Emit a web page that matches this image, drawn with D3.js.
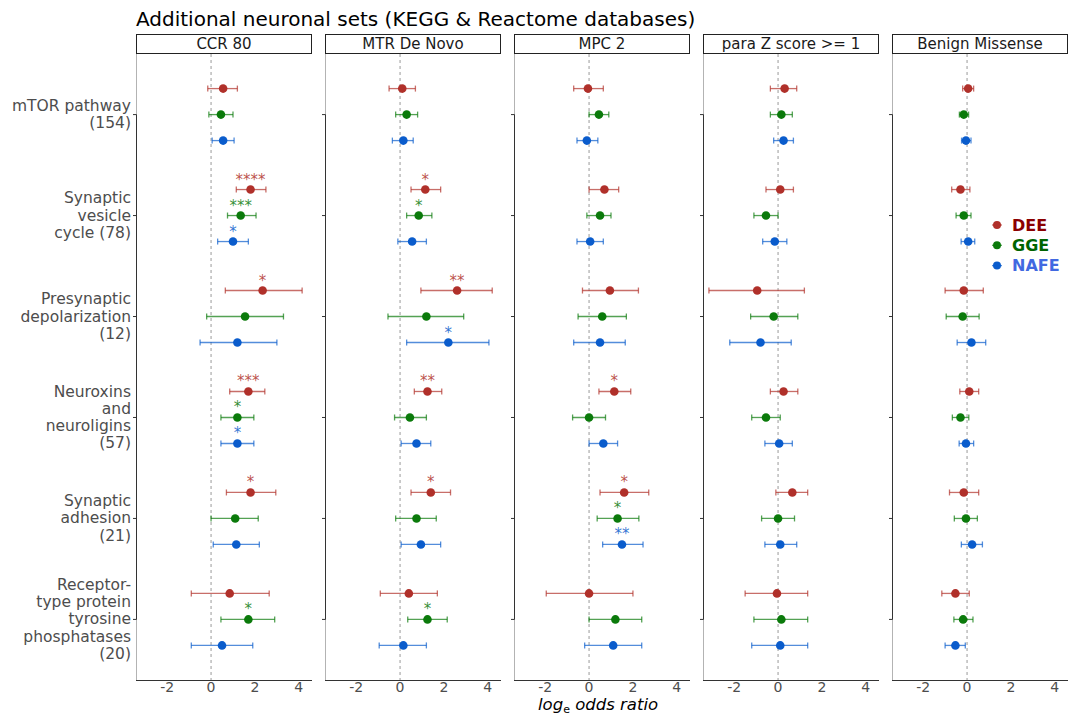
<!DOCTYPE html>
<html>
<head>
<meta charset="utf-8">
<script src="https://cdn.jsdelivr.net/npm/d3@7"></script>
<style>
  body { margin: 0; background: #fff; }
  svg { font-family: "DejaVu Sans", sans-serif; display: block; }
</style>
</head>
<body>
<div id="chart"></div>
<script>
// chart size
var width = 1068, height = 715;

var panels = ["CCR 80", "MTR De Novo", "MPC 2", "para Z score >= 1", "Benign Missense"];
var groups = ["mTOR", "vesicle", "presyn", "neurexin", "adhesion", "rptp"];
var groupLabels = [
  ["mTOR pathway", "(154)"],
  ["Synaptic", "vesicle", "cycle (78)"],
  ["Presynaptic", "depolarization", "(12)"],
  ["Neuroxins", "and", "neuroligins", "(57)"],
  ["Synaptic", "adhesion", "(21)"],
  ["Receptor-", "type protein", "tyrosine", "phosphatases", "(20)"]
];
var series = ["DEE", "GGE", "NAFE"];
var xTicks = [-2, 0, 2, 4];

// estimates / lower / upper / stars, rows = DEE, GGE, NAFE; cols = groups
var ccr80Est = [[0.55, 1.8, 2.35, 1.7, 1.8, 0.85], [0.45, 1.35, 1.55, 1.2, 1.1, 1.7], [0.55, 1.0, 1.2, 1.2, 1.15, 0.5]];
var ccr80Lo  = [[-0.15, 1.15, 0.65, 0.85, 0.7, -0.9], [-0.1, 0.75, -0.2, 0.45, 0.0, 0.45], [0.05, 0.3, -0.5, 0.45, 0.1, -0.9]];
var ccr80Hi  = [[1.2, 2.5, 4.15, 2.45, 2.95, 2.65], [1.0, 2.05, 3.3, 1.95, 2.15, 2.9], [1.05, 1.7, 3.0, 1.95, 2.2, 1.9]];
var ccr80Sig = [["", "****", "*", "***", "*", ""], ["", "***", "", "*", "", "*"], ["", "*", "", "*", "", ""]];

var mtrEst = [[0.1, 1.15, 2.6, 1.25, 1.4, 0.4], [0.3, 0.85, 1.2, 0.45, 0.75, 1.25], [0.15, 0.55, 2.2, 0.75, 0.95, 0.15]];
var mtrLo  = [[-0.5, 0.5, 0.95, 0.65, 0.5, -0.9], [-0.2, 0.3, -0.55, -0.25, -0.2, 0.35], [-0.35, -0.1, 0.3, 0.05, 0.05, -0.95]];
var mtrHi  = [[0.7, 1.85, 4.2, 1.9, 2.3, 1.7], [0.8, 1.45, 2.9, 1.2, 1.65, 2.15], [0.6, 1.2, 4.05, 1.4, 1.85, 1.2]];
var mtrSig = [["", "*", "**", "**", "*", ""], ["", "*", "", "", "", "*"], ["", "", "*", "", "", ""]];

var mpcEst = [[-0.05, 0.7, 0.95, 1.15, 1.6, 0.0], [0.45, 0.5, 0.6, 0.0, 1.3, 1.2], [-0.1, 0.05, 0.5, 0.65, 1.5, 1.1]];
var mpcLo  = [[-0.7, 0.0, -0.3, 0.45, 0.5, -1.95], [0.0, -0.1, -0.5, -0.75, 0.37, 0.0], [-0.55, -0.55, -0.7, 0.0, 0.62, -0.2]];
var mpcHi  = [[0.65, 1.35, 2.25, 1.9, 2.72, 2.0], [0.9, 1.0, 1.7, 0.75, 2.27, 2.4], [0.4, 0.65, 1.65, 1.3, 2.46, 2.4]];
var mpcSig = [["", "", "", "*", "*", ""], ["", "", "", "", "*", ""], ["", "", "", "", "**", ""]];

var paraZEst = [[0.3, 0.1, -0.95, 0.25, 0.65, -0.05], [0.15, -0.55, -0.2, -0.55, 0.0, 0.15], [0.25, -0.15, -0.8, 0.05, 0.1, 0.1]];
var paraZLo  = [[-0.35, -0.55, -3.15, -0.35, -0.1, -1.5], [-0.35, -1.1, -1.25, -1.2, -0.75, -1.1], [-0.2, -0.7, -2.2, -0.6, -0.6, -1.2]];
var paraZHi  = [[0.85, 0.7, 1.2, 0.9, 1.35, 1.35], [0.65, 0.0, 0.9, 0.1, 0.75, 1.35], [0.7, 0.4, 0.6, 0.65, 0.85, 1.35]];
var paraZSig = [["", "", "", "", "", ""], ["", "", "", "", "", ""], ["", "", "", "", "", ""]];

var benignEst = [[0.05, -0.3, -0.15, 0.1, -0.15, -0.53], [-0.15, -0.15, -0.2, -0.3, -0.05, -0.18], [-0.05, 0.05, 0.2, -0.05, 0.23, -0.53]];
var benignLo  = [[-0.2, -0.7, -1.0, -0.33, -0.8, -1.15], [-0.35, -0.5, -0.95, -0.67, -0.58, -0.6], [-0.25, -0.27, -0.45, -0.36, -0.26, -1.0]];
var benignHi  = [[0.3, 0.13, 0.74, 0.53, 0.53, 0.1], [0.07, 0.18, 0.55, 0.08, 0.47, 0.27], [0.18, 0.35, 0.85, 0.3, 0.7, -0.08]];
var benignSig = [["", "", "", "", "", ""], ["", "", "", "", "", ""], ["", "", "", "", "", ""]];

var panelEst = [ccr80Est, mtrEst, mpcEst, paraZEst, benignEst];
var panelLo = [ccr80Lo, mtrLo, mpcLo, paraZLo, benignLo];
var panelHi = [ccr80Hi, mtrHi, mpcHi, paraZHi, benignHi];
var panelSig = [ccr80Sig, mtrSig, mpcSig, paraZSig, benignSig];

var pointColor = { "DEE": "#b0302a", "GGE": "#0b7a0b", "NAFE": "#0a5ccc" };
var legendColor = { "DEE": "#8b0000", "GGE": "#006400", "NAFE": "#4169e1" };

var svg = d3.select("#chart").append("svg")
  .attr("width", width)
  .attr("height", height);

// title
svg.append("text")
  .attr("x", 136).attr("y", 26)
  .style("font-size", "20px")
  .style("fill", "#000")
  .text("Additional neuronal sets (KEGG & Reactome databases)");

var plotTop = 54, plotBottom = 680;

var px = d3.scaleBand().domain(panels).range([136, 1068]).paddingInner(13 / 189).paddingOuter(0);
var y = d3.scalePoint().domain(groups).range([plotTop, plotBottom]).padding(0.6);
var dodge = d3.scalePoint().domain(series).range([-26, 26]);

// y labels, left of first panel
var ylab = svg.append("g");
groups.forEach(function (g, i) {
  var lines = groupLabels[i];
  var t = ylab.append("text")
    .attr("text-anchor", "end")
    .style("font-size", "15.5px")
    .style("fill", "#4d4d4d");
  lines.forEach(function (l, k) {
    t.append("tspan")
      .attr("x", 131)
      .attr("y", y(g) + (k - (lines.length - 1) / 2) * 17.3)
      .attr("dominant-baseline", "central")
      .text(l);
  });
});

panels.forEach(function (p, pi) {
  var x0 = px(p), w = px.bandwidth();
  var x = d3.scaleLinear().domain([-3.42, 4.6]).range([0, w]);
  var g = svg.append("g").attr("transform", "translate(" + x0 + ",0)");

  // strip
  g.append("rect")
    .attr("x", 0.5).attr("y", 34.5)
    .attr("width", w - 1).attr("height", 19)
    .attr("fill", "#fff").attr("stroke", "#222").attr("stroke-width", 1);
  g.append("text")
    .attr("x", w / 2).attr("y", 44)
    .attr("text-anchor", "middle")
    .attr("dominant-baseline", "central")
    .style("font-size", "15px")
    .style("fill", "#1a1a1a")
    .text(p);

  // panel left border + y axis line between first and last tick
  g.append("line")
    .attr("x1", 0.5).attr("x2", 0.5)
    .attr("y1", plotTop).attr("y2", plotBottom)
    .attr("stroke", "#b3b3b3");
  g.append("line")
    .attr("x1", 0.5).attr("x2", 0.5)
    .attr("y1", y(groups[0])).attr("y2", y(groups[groups.length - 1]))
    .attr("stroke", "#333");
  groups.forEach(function (gr) {
    g.append("line")
      .attr("x1", -3).attr("x2", 0.5)
      .attr("y1", y(gr)).attr("y2", y(gr))
      .attr("stroke", "#333");
  });

  // x axis
  g.append("line")
    .attr("x1", 0).attr("x2", w)
    .attr("y1", plotBottom + 0.5).attr("y2", plotBottom + 0.5)
    .attr("stroke", "#333");
  g.selectAll(".xt")
    .data(xTicks)
    .enter().append("text")
    .attr("x", function (d) { return x(d); })
    .attr("y", 692)
    .attr("text-anchor", "middle")
    .style("font-size", "14px")
    .style("fill", "#4d4d4d")
    .text(function (d) { return d; });

  // zero reference
  g.append("line")
    .attr("x1", x(0)).attr("x2", x(0))
    .attr("y1", plotTop).attr("y2", plotBottom)
    .attr("stroke", "#999")
    .attr("stroke-dasharray", "3,3");

  // build rows
  var rows = [];
  series.forEach(function (s, si) {
    groups.forEach(function (gr, gi) {
      rows.push({
        s: s, g: gr,
        est: panelEst[pi][si][gi],
        lo: panelLo[pi][si][gi],
        hi: panelHi[pi][si][gi],
        sig: panelSig[pi][si][gi]
      });
    });
  });

  var marks = g.append("g").selectAll("g")
    .data(rows)
    .enter().append("g")
    .attr("transform", function (d) { return "translate(0," + (y(d.g) + dodge(d.s)) + ")"; });

  marks.append("line")
    .attr("x1", function (d) { return x(d.lo); })
    .attr("x2", function (d) { return x(d.hi); })
    .attr("stroke", function (d) { return pointColor[d.s]; })
    .attr("stroke-opacity", 0.7)
    .attr("stroke-width", 1.3);
  marks.append("line")
    .attr("x1", function (d) { return x(d.lo); })
    .attr("x2", function (d) { return x(d.lo); })
    .attr("y1", -3).attr("y2", 3)
    .attr("stroke", function (d) { return pointColor[d.s]; })
    .attr("stroke-opacity", 0.7)
    .attr("stroke-width", 1.3);
  marks.append("line")
    .attr("x1", function (d) { return x(d.hi); })
    .attr("x2", function (d) { return x(d.hi); })
    .attr("y1", -3).attr("y2", 3)
    .attr("stroke", function (d) { return pointColor[d.s]; })
    .attr("stroke-opacity", 0.7)
    .attr("stroke-width", 1.3);
  marks.append("circle")
    .attr("cx", function (d) { return x(d.est); })
    .attr("r", 4.3)
    .attr("fill", function (d) { return pointColor[d.s]; });
  marks.filter(function (d) { return d.sig !== ""; })
    .append("text")
    .attr("x", function (d) { return x(d.est); })
    .attr("y", -5)
    .attr("text-anchor", "middle")
    .style("font-size", "15px")
    .style("fill", function (d) { return pointColor[d.s]; })
    .style("fill-opacity", 0.85)
    .text(function (d) { return d.sig; });
});

// x axis title
var xt = svg.append("text")
  .attr("x", 538).attr("y", 710)
  .style("font-size", "16.5px")
  .style("fill", "#000");
xt.append("tspan").style("font-style", "italic").text("log");
xt.append("tspan").attr("dy", 3).style("font-size", "11px").text("e");
xt.append("tspan").attr("dy", -3).style("font-style", "italic").text(" odds ratio");

// legend
var legend = svg.append("g").selectAll("g")
  .data(series)
  .enter().append("g")
  .attr("transform", function (d, i) { return "translate(997," + (225 + i * 20.3) + ")"; });
legend.append("line")
  .attr("x1", -5).attr("x2", 5)
  .attr("stroke", function (d) { return pointColor[d]; })
  .attr("stroke-opacity", 0.7)
  .attr("stroke-width", 1.3);
legend.append("circle")
  .attr("r", 4)
  .attr("fill", function (d) { return pointColor[d]; });
legend.append("text")
  .attr("x", 15)
  .attr("dominant-baseline", "central")
  .style("font-size", "16px")
  .style("font-weight", "bold")
  .style("fill", function (d) { return legendColor[d]; })
  .text(function (d) { return d; });
</script>
</body>
</html>
